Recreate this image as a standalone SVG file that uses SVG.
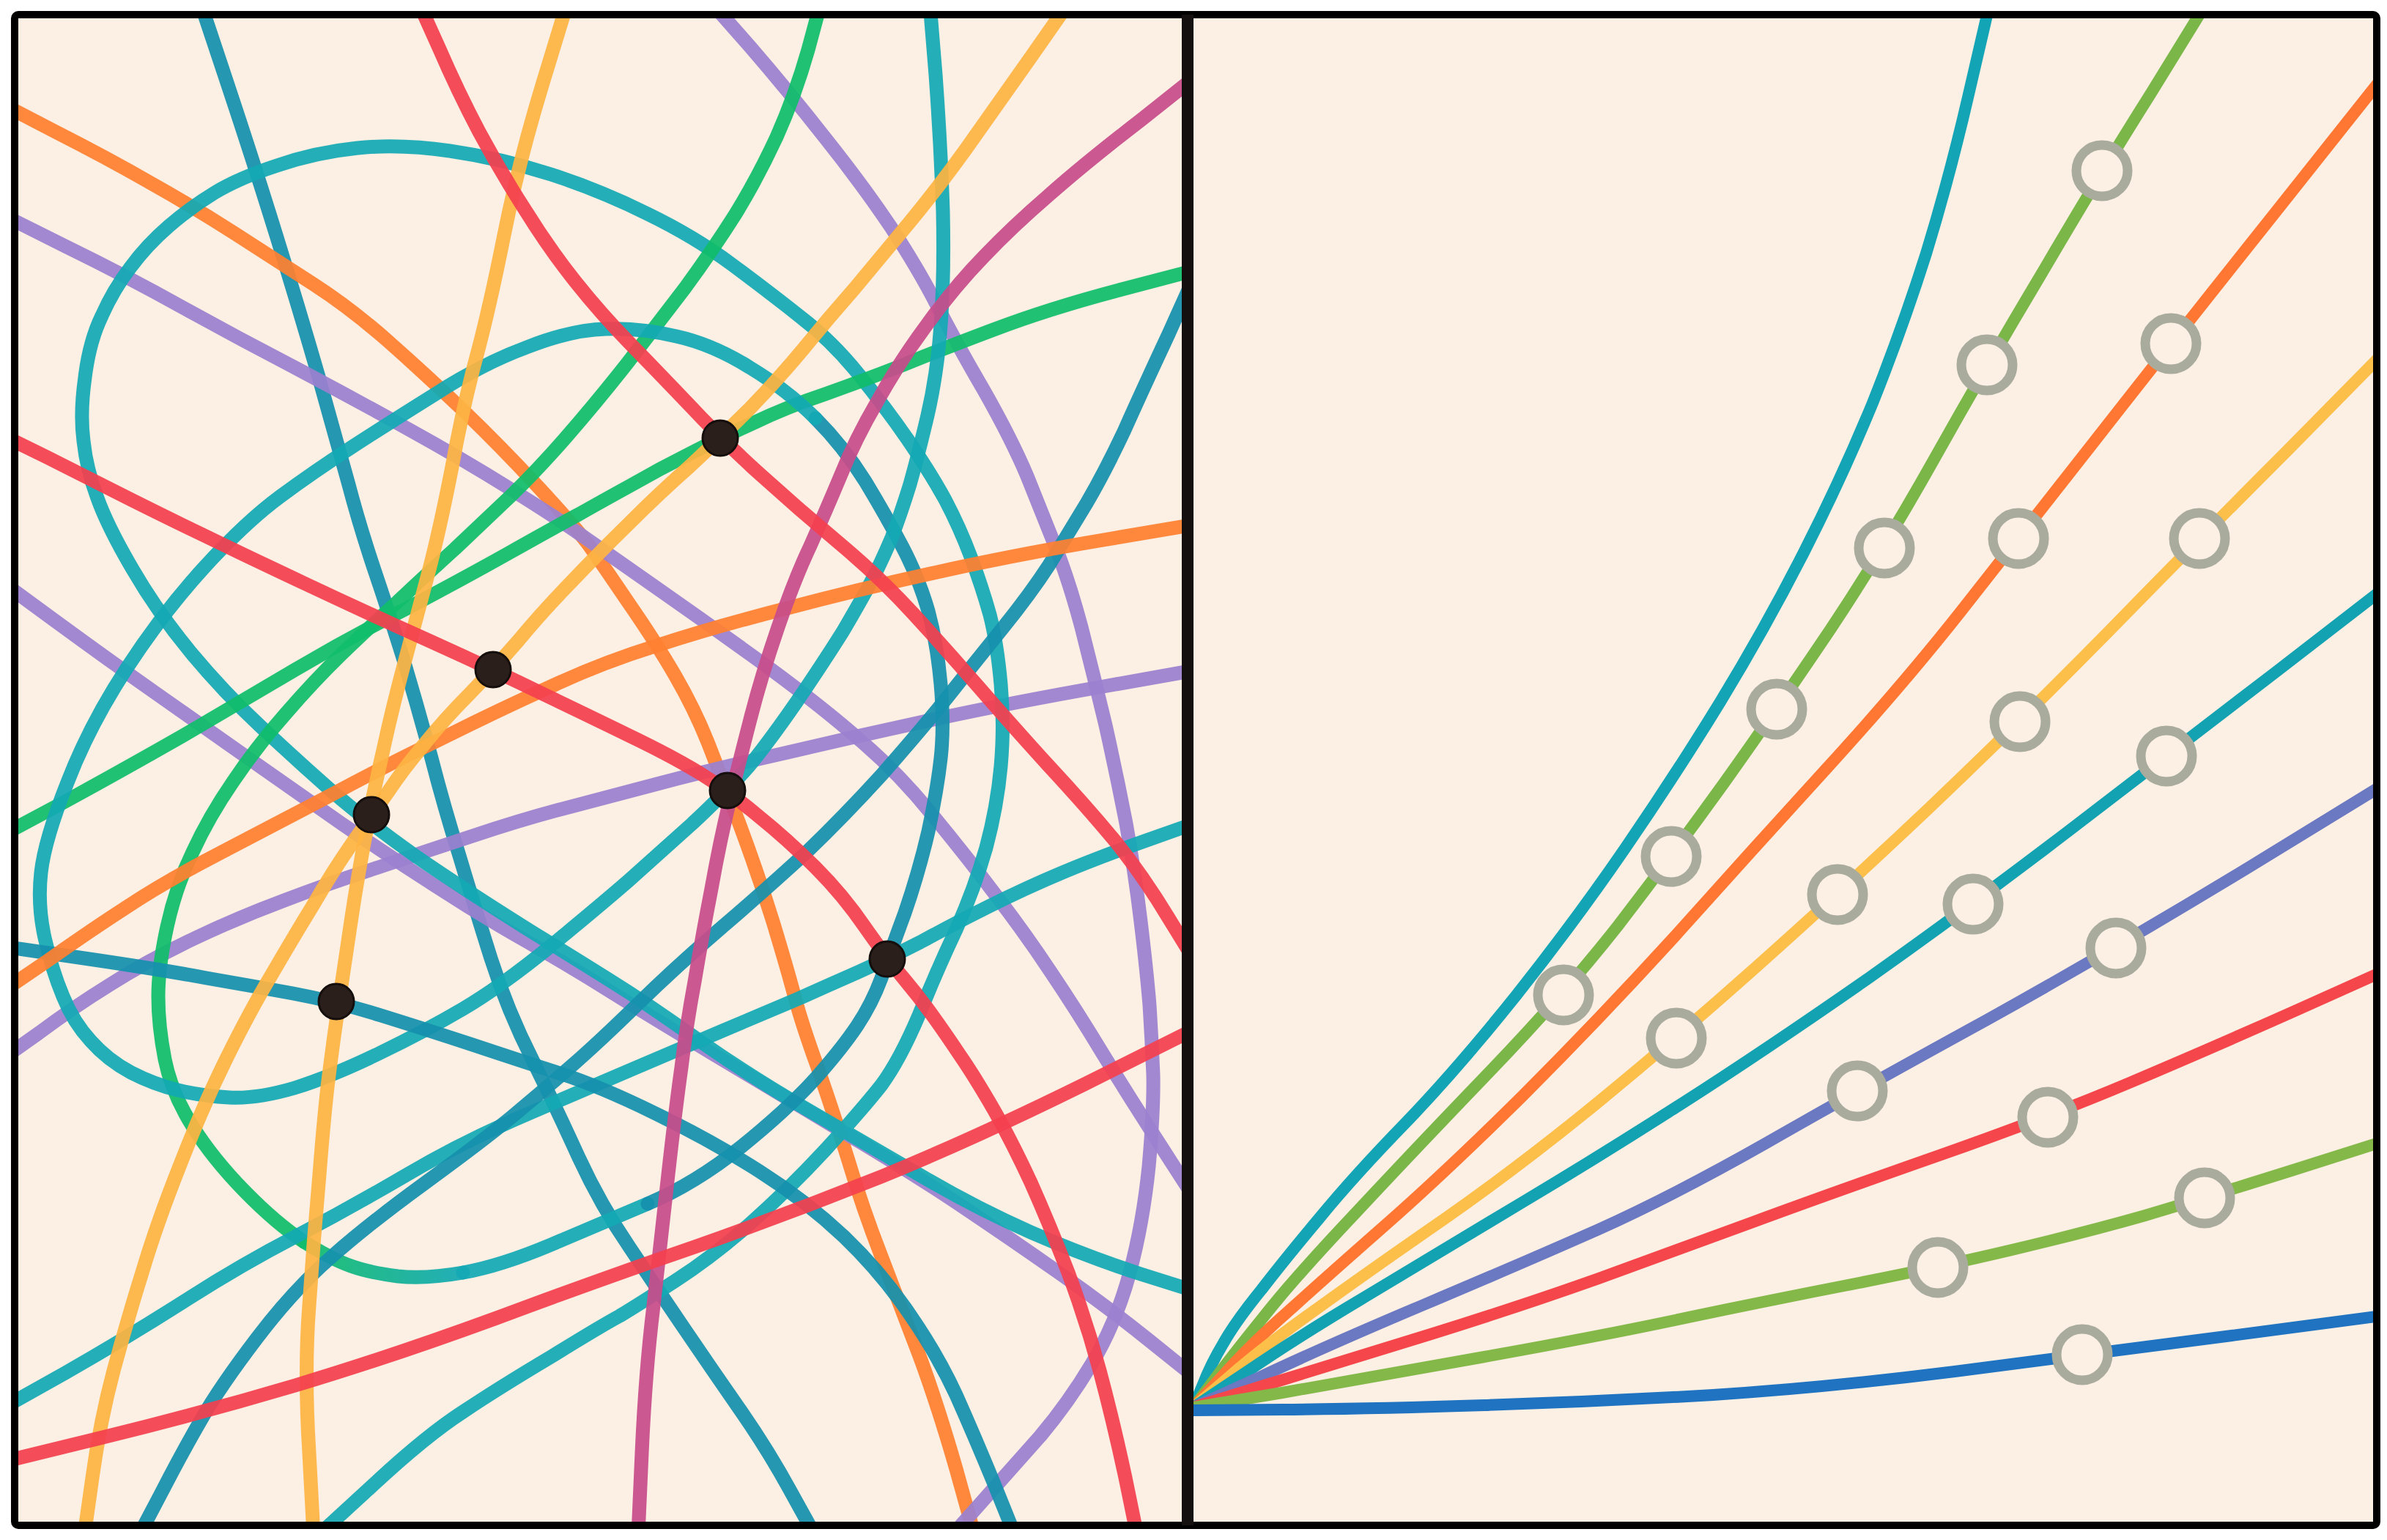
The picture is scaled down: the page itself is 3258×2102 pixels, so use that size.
<svg xmlns="http://www.w3.org/2000/svg" width="3258" height="2102" viewBox="0 0 3258 2102">
<style>
.l{fill:none;stroke-width:19;stroke-linecap:round;stroke-linejoin:round;stroke-opacity:0.93}
.r{fill:none;stroke-width:16;stroke-linecap:round;stroke-linejoin:round}
.dt{stroke:#1590ad}.tl{stroke:#13a9b4}.or{stroke:#ff8030}.pu{stroke:#9b80d0}.rd{stroke:#f4404f}.ye{stroke:#fdb443}.gr{stroke:#10bd6b}.mg{stroke:#c74c8b}
.dot{fill:#2b1f1c;stroke:#140e0c;stroke-width:3}
.ring{fill:#fcefe3;stroke:#a9ac9d;stroke-width:13}
</style>
<defs>
<clipPath id="cl"><rect x="25" y="25" width="1588" height="2052"/></clipPath>
<clipPath id="cr"><rect x="1629" y="25" width="1610" height="2052"/></clipPath>
<linearGradient id="gt" gradientUnits="userSpaceOnUse" x1="415" y1="0" x2="632" y2="0"><stop offset="0" stop-color="#10bd6b"/><stop offset="1" stop-color="#13a9b4"/></linearGradient>
</defs>
<rect x="0" y="0" width="3258" height="2102" fill="#ffffff"/>
<rect x="20" y="20" width="3224" height="2062" fill="#fcefe3"/>
<g id="left-panel" clip-path="url(#cl)">
<path class="l dt" d="M274,5 L310,113 Q346,221 377,321 Q408,421 434,511 Q459,600 475,658 Q490,715 510,775 Q530,834 551,901 Q571,968 589,1035 Q606,1101 627,1168 Q647,1235 670,1308 Q693,1380 727,1447 Q760,1514 790,1580 Q820,1645 859,1702 Q897,1759 935,1815 Q973,1871 1012,1927 Q1050,1982 1081,2039 L1112,2095"/>
<path class="l or" d="M5,143 L76,180 Q147,216 206,250 Q265,283 321,319 Q377,355 428,388 Q479,421 530,466 Q581,511 632,560 Q683,609 734,664 Q785,719 803,743 Q820,767 858,823 Q896,878 922,923 Q948,968 966,1013 Q983,1057 1009,1124 Q1034,1191 1055,1258 Q1075,1324 1085,1362 Q1095,1399 1116,1457 Q1136,1514 1157,1581 Q1177,1648 1203,1715 Q1228,1781 1254,1848 Q1279,1915 1305,2005 L1330,2095"/>
<path class="l pu" d="M5,294 L89,336 Q173,377 250,420 Q326,462 403,502 Q479,542 556,585 Q632,627 696,667 Q760,707 790,728 Q820,749 897,803 Q973,856 1050,912 Q1126,968 1177,1013 Q1228,1057 1274,1114 Q1320,1170 1360,1223 Q1400,1275 1435,1328 Q1470,1380 1505,1438 Q1540,1495 1585,1565 L1630,1635"/>
<path class="l pu" d="M5,796 L76,848 Q147,900 211,945 Q275,990 339,1035 Q402,1079 466,1124 Q530,1168 594,1209 Q657,1250 719,1285 Q780,1320 839,1357 Q897,1393 974,1439 Q1050,1485 1139,1538 Q1228,1590 1305,1641 Q1381,1692 1445,1737 Q1508,1781 1569,1830 L1630,1879"/>
<path class="l pu" d="M5,1444 L53,1410 Q100,1375 150,1344 Q200,1312 263,1282 Q326,1252 388,1229 Q450,1205 516,1184 Q581,1162 645,1141 Q708,1120 764,1105 Q820,1090 897,1070 Q973,1050 1075,1027 Q1177,1003 1279,981 Q1381,959 1506,937 L1630,915"/>
<path class="l pu" d="M972,5 L1024,64 Q1075,123 1126,188 Q1177,252 1216,310 Q1254,368 1279,417 Q1304,466 1343,533 Q1381,600 1402,650 Q1422,700 1440,745 Q1458,789 1476,856 Q1493,923 1509,990 Q1524,1057 1537,1124 Q1549,1191 1557,1258 Q1565,1324 1569,1372 Q1572,1420 1574,1467 Q1575,1514 1568,1592 Q1560,1670 1542,1737 Q1524,1804 1491,1860 Q1458,1915 1420,1960 Q1381,2004 1340,2050 L1300,2095"/>
<path class="l tl" d="M1630,1762 L1557,1739 Q1483,1715 1407,1682 Q1330,1648 1254,1603 Q1177,1558 1101,1514 Q1024,1469 961,1425 Q897,1380 859,1355 Q820,1330 726,1272 Q632,1213 568,1169 Q504,1124 453,1080 Q402,1035 354,990 Q306,945 260,890 Q214,834 181,777 Q147,719 133,680 Q118,640 114,602 Q109,564 116,515 Q122,466 139,431 Q155,395 178,365 Q200,335 230,309 Q260,283 293,263 Q326,243 378,226 Q430,208 488,202 Q545,196 614,206 Q683,216 752,238 Q820,260 884,292 Q948,323 999,361 Q1050,399 1093,433 Q1136,466 1172,511 Q1208,555 1239,600 Q1269,644 1290,682 Q1310,720 1325,760 Q1340,800 1351,839 Q1361,878 1366,934 Q1371,990 1366,1046 Q1361,1101 1346,1157 Q1330,1213 1305,1269 Q1279,1324 1254,1386 Q1228,1447 1203,1481 Q1177,1514 1126,1570 Q1075,1625 1024,1670 Q973,1715 922,1748 Q871,1781 846,1796 Q820,1810 752,1852 Q683,1893 632,1927 Q581,1960 508,2028 L435,2095"/>
<path class="l gr" d="M5,1139 L89,1094 Q173,1048 250,1004 Q326,959 403,914 Q479,869 556,830 Q632,790 696,754 Q760,718 790,702 Q820,685 860,663 Q900,640 942,619 Q983,598 1029,577 Q1075,555 1126,538 Q1177,520 1228,500 Q1279,479 1356,450 Q1432,421 1531,395 L1630,369"/>
<path class="l gr" d="M1120,5 L1103,68 Q1085,131 1060,187 Q1034,243 1004,292 Q973,341 935,393 Q896,444 856,496 Q815,548 775,594 Q735,640 698,676 Q660,712 621,749 Q581,785 543,821 Q504,856 466,893 Q428,930 390,974 Q351,1018 318,1067 Q285,1115 263,1163 Q240,1210 228,1265 Q216,1320 216,1360 Q216,1400 225,1446 Q234,1491 262,1536 Q290,1581 334,1626 Q377,1670 415,1695"/>
<path class="l" stroke="url(#gt)" d="M415,1695 Q453,1719 479,1728 Q504,1737 543,1742 Q581,1746 632,1737"/>
<path class="l tl" d="M632,1737 Q683,1728 752,1699 Q820,1670 884,1643"/>
<path class="l dt" d="M884,1643 Q948,1616 1012,1565 Q1075,1514 1113,1472 Q1150,1430 1170,1400 Q1190,1370 1203,1335 Q1215,1300 1235,1246 Q1254,1191 1267,1135 Q1279,1079 1284,1035 Q1289,990 1284,934 Q1279,878 1267,834 Q1254,789 1232,747 Q1210,705 1181,657 Q1151,609 1113,571"/>
<path class="l tl" d="M1113,571 Q1075,533 1024,502 Q973,470 923,459 Q873,447 827,449 Q780,450 719,474 Q657,497 594,538 Q530,578 479,611 Q428,644 382,678 Q336,712 280,773 Q224,834 173,912 Q122,990 92,1068 Q61,1146 56,1191 Q51,1235 61,1280 Q71,1324 86,1360 Q100,1395 124,1421 Q147,1447 179,1464 Q210,1480 243,1488 Q275,1496 313,1498 Q351,1500 402,1485 Q453,1469 517,1438 Q581,1407 632,1377 Q683,1347 752,1291 Q820,1235 858,1202 Q896,1168 945,1124 Q993,1079 1022,1046 Q1050,1012 1088,957 Q1126,901 1151,861 Q1175,820 1189,794 Q1203,767 1217,734 Q1230,700 1242,661 Q1253,622 1266,567 Q1279,511 1284,444 Q1289,377 1287,288 Q1284,198 1277,102 L1269,5"/>
<path class="l tl" d="M5,1921 L89,1874 Q173,1826 250,1777 Q326,1728 403,1688 Q479,1648 556,1603 Q632,1558 726,1518 Q820,1478 871,1456 Q922,1434 986,1407 Q1050,1380 1090,1363 Q1130,1345 1171,1327 Q1211,1309 1256,1286 Q1300,1262 1350,1237 Q1400,1212 1450,1191 Q1500,1170 1565,1147 L1630,1124"/>
<path class="l dt" d="M1630,378 L1595,456 Q1559,533 1534,589 Q1508,644 1483,687 Q1457,730 1432,771 Q1406,811 1368,858 Q1330,905 1292,953 Q1254,1000 1203,1058 Q1151,1115 1101,1163 Q1050,1210 986,1265 Q922,1320 871,1370 Q820,1420 780,1455 Q740,1490 699,1524 Q658,1558 581,1614 Q504,1670 453,1715 Q402,1759 351,1826 Q300,1893 275,1937 Q250,1980 220,2038 L190,2095"/>
<path class="l dt" d="M5,1292 L115,1308 Q224,1324 282,1335 Q340,1345 400,1356 Q459,1367 520,1386 Q581,1405 645,1426 Q708,1447 764,1465 Q820,1483 897,1521 Q973,1558 1037,1599 Q1100,1639 1152,1688 Q1203,1737 1241,1793 Q1279,1848 1305,1904 Q1330,1960 1358,2028 L1385,2095"/>
<path class="l or" d="M5,1352 L64,1312 Q122,1271 173,1238 Q224,1204 301,1164 Q377,1124 454,1084 Q530,1043 607,1006 Q683,968 752,937 Q820,905 897,881 Q973,856 1075,830 Q1177,803 1279,781 Q1381,758 1506,737 L1630,716"/>
<path class="l mg" d="M1630,106 L1557,164 Q1483,221 1432,266 Q1381,310 1343,350 Q1304,390 1266,442 Q1228,493 1198,547 Q1167,600 1147,650 Q1126,700 1106,745 Q1085,789 1062,856 Q1039,923 1024,982 Q1009,1040 996,1093 Q983,1146 971,1213 Q958,1280 948,1340 Q937,1399 930,1457 Q922,1514 912,1603 Q902,1692 892,1782 Q881,1871 876,1983 L871,2095"/>
<path class="l ye" d="M774,5 L741,113 Q708,221 688,321 Q668,421 650,488 Q632,555 617,637 Q601,719 586,777 Q571,834 553,901 Q535,968 523,1024 Q510,1079 500,1135 Q489,1191 479,1258 Q469,1324 462,1372 Q455,1420 449,1467 Q443,1514 436,1603 Q428,1692 422,1782 Q415,1871 422,1983 L428,2095"/>
<path class="l ye" d="M1458,5 L1407,78 Q1356,150 1318,204 Q1279,258 1241,304 Q1203,350 1167,393 Q1130,435 1095,478 Q1060,520 1022,559 Q983,598 942,636 Q900,673 860,713 Q820,752 780,794 Q740,835 707,875 Q673,914 640,948 Q607,981 579,1016 Q550,1050 529,1082 Q507,1113 480,1152 Q453,1191 427,1236 Q400,1280 371,1330 Q341,1380 308,1447 Q275,1514 245,1592 Q214,1670 194,1737 Q173,1804 155,1871 Q137,1938 126,2017 L115,2095"/>
<path class="l rd" d="M572,5 L599,65 Q625,125 654,180 Q683,234 717,287 Q750,340 785,384 Q820,428 860,469 Q900,510 942,554 Q983,598 1037,647 Q1090,695 1145,741 Q1200,787 1245,836 Q1290,885 1336,938 Q1381,990 1432,1046 Q1483,1101 1522,1148 Q1560,1195 1595,1253 L1630,1310"/>
<path class="l rd" d="M5,595 L64,624 Q122,653 179,682 Q235,710 281,732 Q326,754 415,796 Q504,838 589,876 Q673,914 747,950 Q820,985 871,1010 Q922,1035 958,1057 Q993,1079 1034,1113 Q1075,1146 1113,1184 Q1151,1222 1181,1266 Q1211,1309 1233,1335 Q1254,1360 1272,1385 Q1290,1410 1310,1440 Q1330,1469 1356,1514 Q1381,1558 1407,1614 Q1432,1670 1458,1737 Q1483,1804 1501,1871 Q1519,1938 1536,2017 L1552,2095"/>
<path class="l rd" d="M5,1995 L140,1962 Q275,1929 403,1891 Q530,1853 675,1800 Q820,1746 948,1702 Q1075,1657 1203,1606 Q1330,1554 1480,1480 L1630,1405"/>
</g>
<g id="junctions">
<circle class="dot" cx="983" cy="598" r="24"/>
<circle class="dot" cx="673" cy="914" r="24"/>
<circle class="dot" cx="993" cy="1079" r="24"/>
<circle class="dot" cx="1211" cy="1309" r="24"/>
<circle class="dot" cx="507" cy="1112" r="24"/>
<circle class="dot" cx="459" cy="1367" r="24"/>
</g>
<g id="right-panel" clip-path="url(#cr)">
<path class="r" stroke="#13a4b6" d="M1629,1921 L1641,1892 Q1652,1863 1670,1833 Q1687,1803 1722,1760 Q1756,1716 1803,1660 Q1849,1604 1920,1531 Q1990,1458 2070,1358 Q2150,1257 2218,1158 Q2286,1059 2348,958 Q2410,856 2462,754 Q2514,652 2556,550 Q2597,447 2629,346 Q2660,245 2686,133 L2715,8"/>
<path class="r" stroke="#7ab648" d="M1629,1921 L1656,1885 Q1683,1849 1725,1797 Q1766,1745 1849,1657 Q1932,1568 2033,1463 Q2134,1358 2208,1264 Q2281,1169 2353,1069 Q2425,968 2499,858 Q2572,748 2642,623 Q2712,498 2791,366 Q2869,233 2936,127 L3008,10"/>
<path class="r" stroke="#ff7733" d="M1629,1921 L1667,1880 Q1704,1838 1756,1792 Q1808,1745 1891,1672 Q1974,1599 2078,1496 Q2182,1392 2286,1278 Q2389,1163 2493,1049 Q2597,935 2676,835 Q2755,735 2859,602 Q2963,469 3100,297 L3250,108"/>
<path class="r" stroke="#fcbf49" d="M1629,1921 L1677,1880 Q1725,1838 1798,1786 Q1870,1734 1974,1662 Q2078,1589 2183,1503 Q2288,1417 2398,1319 Q2508,1221 2633,1103 Q2757,985 2880,860 Q3002,735 3120,617 L3250,485"/>
<path class="r" stroke="#12a2b2" d="M1629,1921 L1698,1875 Q1766,1828 1870,1766 Q1974,1703 2078,1641 Q2182,1579 2296,1506 Q2410,1433 2552,1334 Q2693,1234 2825,1133 Q2957,1032 3104,919 L3250,806"/>
<path class="r" stroke="#6b78c2" d="M1629,1921 L1719,1880 Q1808,1838 1943,1781 Q2078,1724 2182,1678 Q2286,1631 2411,1560 Q2535,1489 2712,1392 Q2888,1294 3069,1184 L3250,1073"/>
<path class="r" stroke="#f5474b" d="M1629,1921 L1729,1890 Q1828,1859 1953,1821 Q2078,1782 2182,1745 Q2286,1707 2390,1669 Q2493,1631 2644,1578 Q2795,1525 2904,1479 Q3013,1433 3132,1380 L3250,1327"/>
<path class="r" stroke="#84b94a" d="M1629,1921 L1750,1901 Q1870,1880 2026,1852 Q2182,1824 2286,1802 Q2389,1780 2517,1755 Q2645,1730 2746,1706 Q2847,1682 2928,1659 Q3009,1635 3130,1597 L3250,1559"/>
<path class="r" stroke="#1f73c1" stroke-width="15" d="M1629,1925 L1750,1924 Q1870,1923 2026,1918 Q2182,1913 2338,1904 Q2493,1894 2668,1872 Q2842,1849 3046,1823 L3250,1796"/>
</g>
<g id="markers">
<circle class="ring" cx="2869" cy="233" r="35"/>
<circle class="ring" cx="2712" cy="498" r="35"/>
<circle class="ring" cx="2572" cy="748" r="35"/>
<circle class="ring" cx="2425" cy="968" r="35"/>
<circle class="ring" cx="2281" cy="1169" r="35"/>
<circle class="ring" cx="2134" cy="1358" r="35"/>
<circle class="ring" cx="2963" cy="469" r="35"/>
<circle class="ring" cx="2755" cy="735" r="35"/>
<circle class="ring" cx="3002" cy="735" r="35"/>
<circle class="ring" cx="2757" cy="985" r="35"/>
<circle class="ring" cx="2508" cy="1221" r="35"/>
<circle class="ring" cx="2288" cy="1417" r="35"/>
<circle class="ring" cx="2957" cy="1032" r="35"/>
<circle class="ring" cx="2693" cy="1234" r="35"/>
<circle class="ring" cx="2888" cy="1294" r="35"/>
<circle class="ring" cx="2535" cy="1489" r="35"/>
<circle class="ring" cx="2795" cy="1525" r="35"/>
<circle class="ring" cx="3009" cy="1635" r="35"/>
<circle class="ring" cx="2645" cy="1730" r="35"/>
<circle class="ring" cx="2842" cy="1849" r="35"/>
</g>
<g id="frame">
<rect x="20" y="20" width="3224" height="2062" rx="5" fill="none" stroke="#000000" stroke-width="10"/>
<line x1="1621" y1="20" x2="1621" y2="2082" stroke="#151010" stroke-width="16"/>
</g>
</svg>
